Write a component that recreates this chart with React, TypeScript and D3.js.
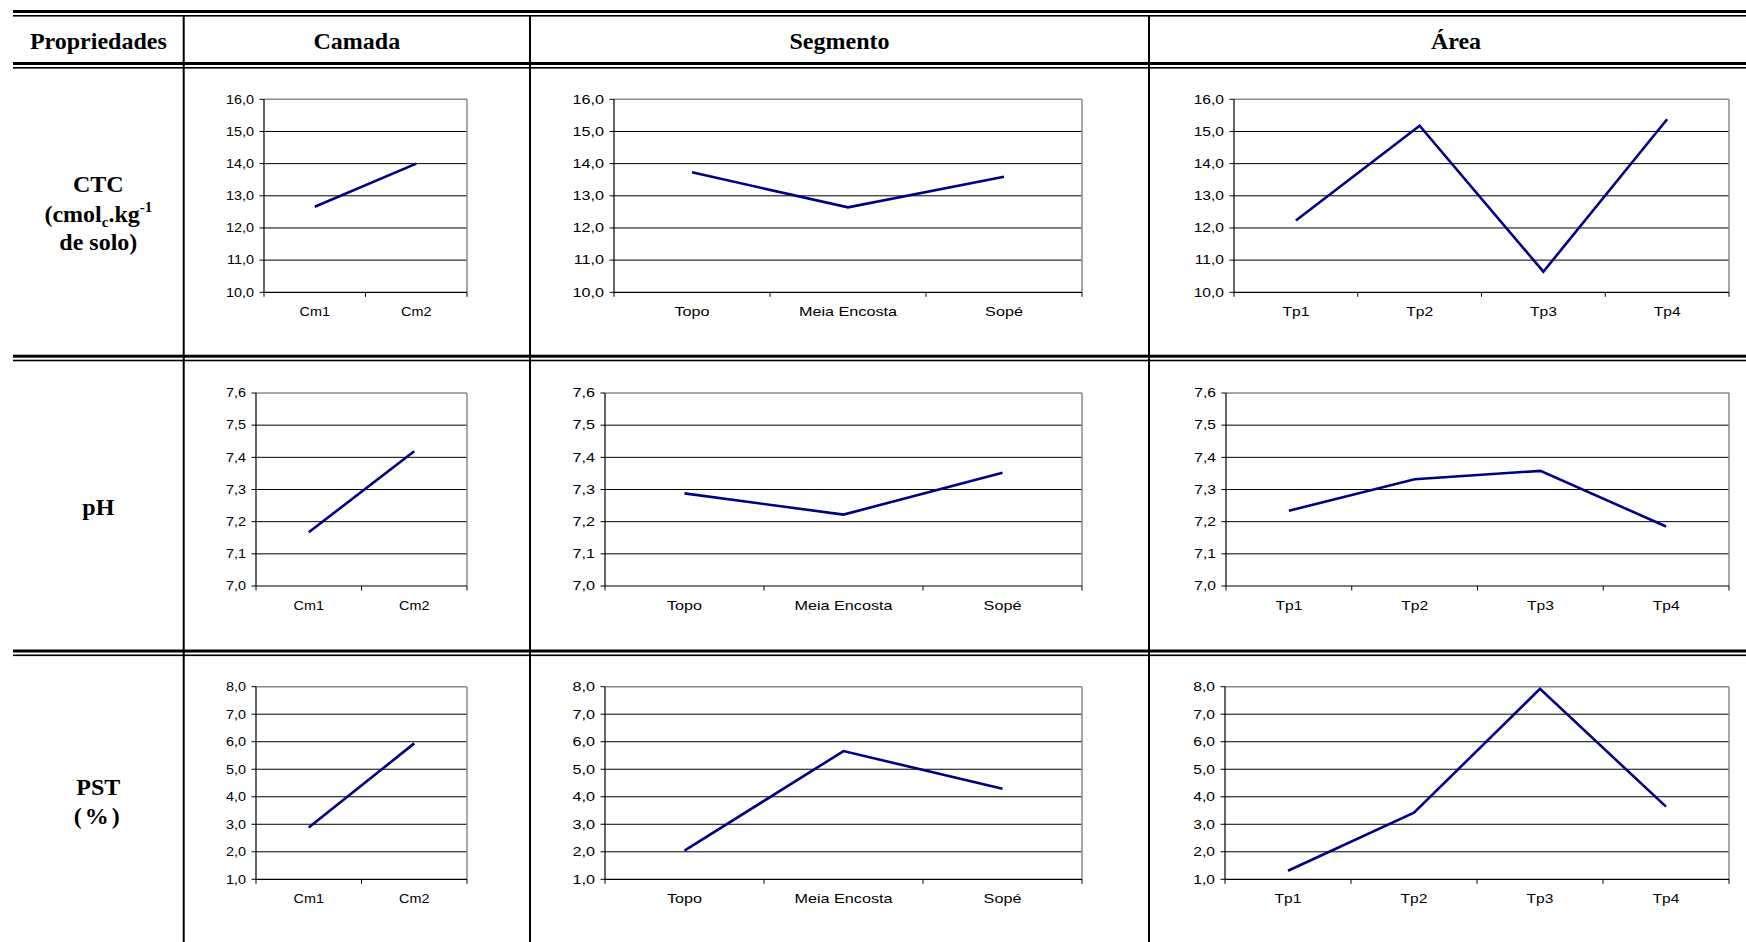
import React, { useEffect } from "react";
import * as d3 from "d3";

// ---------- DATA ----------
const headerLabels = ["Propriedades", "Camada", "Segmento", "Área"];

const camadaCats = ["Cm1", "Cm2"];
const segmentoCats = ["Topo", "Meia Encosta", "Sopé"];
const areaCats = ["Tp1", "Tp2", "Tp3", "Tp4"];

const ctcTicks = [10, 11, 12, 13, 14, 15, 16];
const phTicks = [7.0, 7.1, 7.2, 7.3, 7.4, 7.5, 7.6];
const pstTicks = [1, 2, 3, 4, 5, 6, 7, 8];

const ctcCamada = [12.66, 14.0];
const ctcSegmento = [13.73, 12.64, 13.59];
const ctcArea = [12.23, 15.18, 10.64, 15.38];

const phCamada = [7.167, 7.419];
const phSegmento = [7.288, 7.222, 7.352];
const phArea = [7.234, 7.332, 7.358, 7.185];

const pstCamada = [2.88, 5.94];
const pstSegmento = [2.04, 5.66, 4.29];
const pstArea = [1.31, 3.42, 7.92, 3.64];

// ---------- LAYOUT ----------
const W = 1746;
const H = 942;
const TABLE_LEFT = 13;
const TABLE_RIGHT = 1763;
const COL_X = [183.7, 530, 1149];
const CHART_FONT = "'Liberation Sans', Arial, Helvetica, sans-serif";
const TABLE_FONT = "'Liberation Serif', 'Times New Roman', serif";

const rowsLayout = [
  { top: 99.3, bottom: 292.3, cols: [[264, 467], [614, 1082], [1234, 1729]] },
  { top: 393, bottom: 586, cols: [[256, 467], [605, 1082], [1226, 1729]] },
  { top: 686.7, bottom: 879.3, cols: [[256, 467], [605, 1082], [1225, 1729]] },
];
const colScaleX = [1.2, 1.35, 1.3];

const rowTicks = [ctcTicks, phTicks, pstTicks];
const rowSeries = [
  [ctcCamada, ctcSegmento, ctcArea],
  [phCamada, phSegmento, phArea],
  [pstCamada, pstSegmento, pstArea],
];
const colCats = [camadaCats, segmentoCats, areaCats];

const fmt = (v: number) => d3.format(".1f")(v).replace(".", ",");

function Chart({ x0, x1, top, bottom, ticks, cats, values, sx }: any) {
  const y = d3
    .scaleLinear()
    .domain([d3.min(ticks) as number, d3.max(ticks) as number])
    .range([bottom, top]);
  const x = d3.scaleBand<string>().domain(cats).range([x0, x1]).padding(0);
  const bw = x.bandwidth();
  const line = d3
    .line<number>()
    .x((_, i) => (x(cats[i]) as number) + bw / 2)
    .y((d) => y(d));
  const boundaries = cats.map((c: string) => x(c) as number).concat([x1]);
  return (
    <g>
      {ticks.slice(1, -1).map((t: number) => (
        <line key={"g" + t} x1={x0} x2={x1} y1={y(t)} y2={y(t)} stroke="#000" strokeWidth={1} />
      ))}
      <line x1={x0} x2={x1} y1={top} y2={top} stroke="#8a8a8a" strokeWidth={1.5} />
      <line x1={x1} x2={x1} y1={top} y2={bottom} stroke="#8a8a8a" strokeWidth={1.5} />
      <line x1={x0} x2={x0} y1={top} y2={bottom} stroke="#000" strokeWidth={1.2} />
      <line x1={x0} x2={x1} y1={bottom} y2={bottom} stroke="#000" strokeWidth={1.2} />
      {ticks.map((t: number) => (
        <g key={"t" + t}>
          <line x1={x0 - 4.5} x2={x0} y1={y(t)} y2={y(t)} stroke="#000" strokeWidth={1} />
          <text
            transform={`translate(${x0 - 10},${y(t) + 4.3}) scale(${sx},1)`}
            textAnchor="end"
            fontSize={12}
            fontFamily={CHART_FONT}
            fill="#000"
          >
            {fmt(t)}
          </text>
        </g>
      ))}
      {boundaries.map((bx: number, i: number) => (
        <line key={"xt" + i} x1={bx} x2={bx} y1={bottom} y2={bottom + 4.5} stroke="#000" strokeWidth={1} />
      ))}
      {cats.map((c: string) => (
        <text
          key={c}
          transform={`translate(${(x(c) as number) + bw / 2},${bottom + 24}) scale(${sx},1)`}
          textAnchor="middle"
          fontSize={12}
          fontFamily={CHART_FONT}
          fill="#000"
        >
          {c}
        </text>
      ))}
      <path d={line(values) as string} fill="none" stroke="#000080" strokeWidth={2.6} strokeLinejoin="miter" />
    </g>
  );
}

function DoubleRule({ y }: { y: number }) {
  return (
    <g>
      <rect x={TABLE_LEFT} y={y} width={TABLE_RIGHT - TABLE_LEFT} height={3} fill="#000" />
      <rect x={TABLE_LEFT} y={y + 5} width={TABLE_RIGHT - TABLE_LEFT} height={1.6} fill="#000" />
    </g>
  );
}

export default function App() {
  useEffect(() => {
    document.body.style.margin = "0";
    document.body.style.overflow = "hidden";
  }, []);

  const headerCenters = [
    (TABLE_LEFT + COL_X[0]) / 2,
    (COL_X[0] + COL_X[1]) / 2,
    (COL_X[1] + COL_X[2]) / 2,
    (COL_X[2] + TABLE_RIGHT) / 2,
  ];
  const labelX = (TABLE_LEFT + COL_X[0]) / 2;

  return (
    <svg width={W} height={H} style={{ position: "absolute", left: 0, top: 0, background: "#fff" }}>
      <rect x={0} y={0} width={W} height={H} fill="#fff" />
      {/* table rules */}
      <DoubleRule y={10} />
      <DoubleRule y={62} />
      <DoubleRule y={354.7} />
      <DoubleRule y={649.5} />
      {COL_X.map((cx) => (
        <rect key={cx} x={cx - 1} y={15} width={2} height={H} fill="#000" />
      ))}
      {/* header */}
      {headerLabels.map((h, i) => (
        <text
          key={h}
          x={headerCenters[i]}
          y={48.5}
          textAnchor="middle"
          fontSize={24}
          fontWeight="bold"
          fontFamily={TABLE_FONT}
          fill="#000"
        >
          {h}
        </text>
      ))}
      {/* row labels */}
      <g fontFamily={TABLE_FONT} fontWeight="bold" fontSize={24} fill="#000" textAnchor="middle">
        <text x={labelX} y={192}>CTC</text>
        <text x={labelX} y={221.5}>
          (cmol
          <tspan fontSize={15} dy={5}>c</tspan>
          <tspan dy={-5}>.kg</tspan>
          <tspan fontSize={15} dy={-10}>-1</tspan>
        </text>
        <text x={labelX} y={250}>de solo)</text>
        <text x={labelX} y={515}>pH</text>
        <text x={labelX} y={795}>PST</text>
        <text x={labelX} y={823.5} letterSpacing={3}>(%)</text>
      </g>
      {/* charts */}
      {rowsLayout.map((r, ri) =>
        r.cols.map((c, ci) => (
          <Chart
            key={ri + "-" + ci}
            x0={c[0]}
            x1={c[1]}
            top={r.top}
            bottom={r.bottom}
            ticks={rowTicks[ri]}
            cats={colCats[ci]}
            values={rowSeries[ri][ci]}
            sx={colScaleX[ci]}
          />
        ))
      )}
    </svg>
  );
}
